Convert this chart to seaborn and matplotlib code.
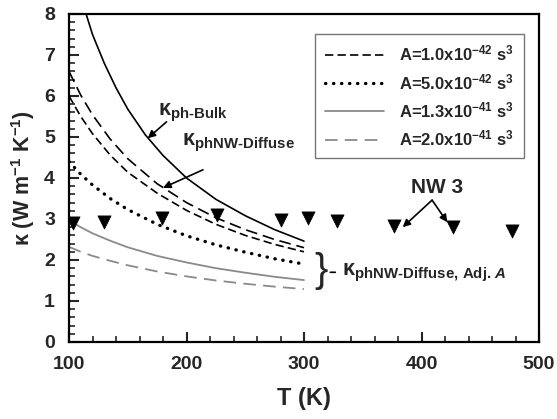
import numpy as np
import pandas as pd
import matplotlib
matplotlib.use('Agg')
import matplotlib.pyplot as plt
import seaborn as sns
from matplotlib.ticker import MultipleLocator

# curves (T in K, kappa in W m-1 K-1)
T_BULK = [114, 120, 130, 140, 150, 165, 180, 200, 225, 250, 275, 300]
K_BULK = [8.05, 7.5, 6.8, 6.2, 5.68, 5.05, 4.55, 4.0, 3.48, 3.08, 2.74, 2.46]

T_NW = [100, 110, 120, 135, 150, 175, 200, 225, 250, 275, 300]
K_DIFFUSE = [6.6, 6.02, 5.54, 4.95, 4.47, 3.86, 3.40, 3.03, 2.74, 2.50, 2.30]
K_A1 = [6.0, 5.50, 5.08, 4.56, 4.14, 3.63, 3.21, 2.87, 2.60, 2.38, 2.20]
K_A2 = [4.4, 4.09, 3.83, 3.50, 3.23, 2.87, 2.59, 2.37, 2.19, 2.03, 1.90]
K_A3 = [2.97, 2.80, 2.65, 2.47, 2.31, 2.10, 1.94, 1.80, 1.69, 1.59, 1.51]
K_A4 = [2.32, 2.20, 2.10, 1.98, 1.87, 1.72, 1.60, 1.50, 1.42, 1.35, 1.29]

A_LABELS = ['A=1.0x10$^{-42}$ s$^3$', 'A=5.0x10$^{-42}$ s$^3$',
            'A=1.3x10$^{-41}$ s$^3$', 'A=2.0x10$^{-41}$ s$^3$']

# NW 3 measurements
T_NW3 = [103, 130, 179, 226, 280, 303, 328, 377, 427, 477]
K_NW3 = [2.9, 2.92, 3.03, 3.1, 2.98, 3.03, 2.95, 2.82, 2.8, 2.7]

sns.set_theme(style='ticks')
plt.rcParams['font.family'] = ['Liberation Sans', 'DejaVu Sans']
plt.rcParams['font.weight'] = 'bold'
plt.rcParams['mathtext.fontset'] = 'custom'
plt.rcParams['mathtext.rm'] = 'Liberation Sans:bold'
plt.rcParams['mathtext.bf'] = 'Liberation Sans:bold'
plt.rcParams['mathtext.it'] = 'Liberation Sans:bold:italic'
plt.rcParams['mathtext.default'] = 'rm'

fig = plt.figure(figsize=(5.57, 4.19), dpi=100)
ax = fig.add_axes([0.1239, 0.1838, 0.8438, 0.7828])

GRAY = '#8a8a8a'
sns.lineplot(x=T_BULK, y=K_BULK, ax=ax, color='black', lw=1.2)
sns.lineplot(x=T_NW, y=K_DIFFUSE, ax=ax, color='black', lw=1.2, linestyle=(0, (7, 3.5)))
styles = [
    dict(color='black', lw=1.2, linestyle=(0, (5, 2.5))),
    dict(color='black', lw=2.4, linestyle=(0, (0.1, 2.3)), dash_capstyle='round'),
    dict(color=GRAY, lw=1.3, linestyle='-'),
    dict(color=GRAY, lw=1.3, linestyle=(0, (7, 4))),
]
handles = []
for ys, lab, st in zip([K_A1, K_A2, K_A3, K_A4], A_LABELS, styles):
    sns.lineplot(x=T_NW, y=ys, ax=ax, label=lab, **st)
    handles.append(ax.lines[-1])

sns.scatterplot(x=T_NW3, y=K_NW3, ax=ax, marker='v', s=90, color='black',
                edgecolor='black', linewidth=0.5, zorder=5)

ax.set_xlim(100, 500)
ax.set_ylim(0, 8)
ax.xaxis.set_major_locator(MultipleLocator(100))
ax.xaxis.set_minor_locator(MultipleLocator(20))
ax.yaxis.set_major_locator(MultipleLocator(1))
ax.yaxis.set_minor_locator(MultipleLocator(0.2))
ax.tick_params(which='both', direction='in', top=False, right=False,
               labelsize=14, pad=10)
ax.tick_params(which='major', length=7, width=1.5)
ax.tick_params(which='minor', length=4, width=1.2)
for s in ax.spines.values():
    s.set_linewidth(1.6)
    s.set_color('black')
for t in ax.get_xticklabels() + ax.get_yticklabels():
    t.set_fontweight('bold')

ax.set_xlabel('T (K)', fontsize=17, fontweight='bold', labelpad=10)
ax.set_ylabel('κ (W m$^{-1}$ K$^{-1}$)', fontsize=15.5, fontweight='bold', labelpad=5)

leg = ax.legend(handles=handles, labels=A_LABELS, loc='upper right',
                bbox_to_anchor=(0.985, 0.965), fancybox=False, frameon=True,
                edgecolor='#555555', fontsize=12, handlelength=3.5,
                labelspacing=0.5, borderpad=0.6, handletextpad=0.9)
leg.get_frame().set_linewidth(1.0)

arrow = dict(arrowstyle='-|>', color='black', lw=1.2, mutation_scale=11,
             shrinkA=0, shrinkB=0)
ax.text(176, 5.58, r'$κ_{\text{ph-Bulk}}$', fontsize=15.5, ha='left', va='center')
ax.annotate('', xy=(167, 4.97), xytext=(183, 5.37), arrowprops=arrow)
ax.text(196, 4.85, r'$κ_{\text{phNW-Diffuse}}$', fontsize=15.5, ha='left', va='center')
ax.annotate('', xy=(180, 3.76), xytext=(214, 4.2), arrowprops=arrow)

ax.text(413, 3.78, 'NW 3', fontsize=15, fontweight='bold', ha='center', va='center')
ax.annotate('', xy=(384, 2.8), xytext=(409, 3.46), arrowprops=arrow)
ax.annotate('', xy=(422, 2.92), xytext=(409, 3.46), arrowprops=arrow)

ax.text(314.5, 1.72, '}', fontsize=29, fontweight='normal', family='Liberation Sans',
        ha='center', va='center')
ax.annotate('', xy=(329, 1.7), xytext=(320, 1.7),
            arrowprops=dict(arrowstyle='-', color='black', lw=1.2))
ax.text(332, 1.68, r'$κ_{\text{phNW-Diffuse, Adj. }\mathit{A}}$', fontsize=15.5,
        ha='left', va='center')

fig.savefig('out.png', dpi=100, facecolor='white')
